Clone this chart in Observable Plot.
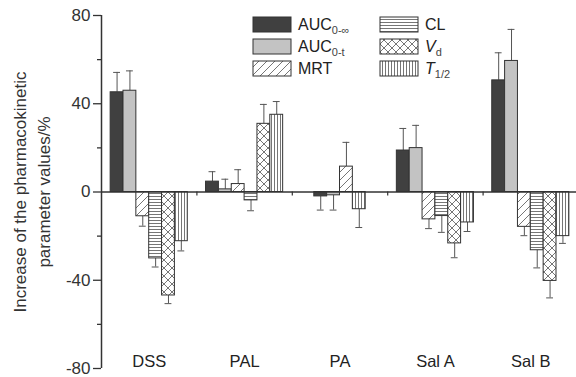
<!DOCTYPE html>
<html><head><meta charset="utf-8">
<script src="https://cdn.jsdelivr.net/npm/d3@7"></script>
<script src="https://cdn.jsdelivr.net/npm/@observablehq/plot@0.6"></script>
<style>body{margin:0;background:#fff;}</style>
</head><body><div id="chart"></div>
<script>
// ---- data ----
const groups = ["DSS", "PAL", "PA", "Sal A", "Sal B"];
const series = ["AUC0-∞", "AUC0-t", "MRT", "CL", "Vd", "T1/2"];
const dssValues  = [45.2, 45.9, -11.0, -30.1, -46.9, -22.3];
const dssErr     = [9.0, 9.0, 4.5, 3.9, 3.7, 4.4];
const palValues  = [4.7, 1.2, 3.6, -3.8, 30.9, 35.0];
const palErr     = [4.5, 4.6, 6.5, 4.7, 8.8, 6.0];
const paValues   = [-2.0, -1.5, 11.5, null, null, -7.8];
const paErr      = [6.2, 6.7, 11.0, null, null, 8.3];
const salAValues = [18.8, 19.9, -12.4, -10.9, -23.3, -13.8];
const salAErr    = [10.0, 10.3, 4.2, 7.4, 6.5, 4.1];
const salBValues = [50.6, 59.4, -15.8, -26.4, -40.3, -20.0];
const salBErr    = [12.5, 14.3, 4.0, 8.0, 7.7, 3.3];
const majorTicks = [-80, -40, 0, 40, 80];
const minorTicks = [-60, -20, 20, 60];
const yTitle = "Increase of the pharmacokinetic\nparameter values/%";
const legendMain = ["AUC", "AUC", "MRT", "CL", "V", "T"];
const legendSub  = ["0-∞", "0-t", "", "", "d", "1/2"];
const legendItalic = [false, false, false, false, true, true];

const allValues = [dssValues, palValues, paValues, salAValues, salBValues];
const allErr = [dssErr, palErr, paErr, salAErr, salBErr];

// ---- build rows ----
const barW = 0.1347;
const rows = [];
groups.forEach((g, gi) => {
  const present = series.map((s, si) => si).filter(si => allValues[gi][si] != null);
  const n = present.length;
  present.forEach((si, k) => {
    const v = allValues[gi][si], e = allErr[gi][si];
    const x1 = gi + 0.5 - n * barW / 2 + k * barW;
    rows.push({group: g, series: series[si], si, value: v, x1, x2: x1 + barW,
      xc: x1 + barW / 2, tip: v + Math.sign(v || 1) * e});
  });
});

const fills = ["#404040", "#c3c3c3", "url(#p-mrt)", "url(#p-cl)", "url(#p-vd)", "url(#p-t)"];

const barMarks = series.map((s, si) => Plot.rectY(rows.filter(d => d.si === si), {
  x1: "x1", x2: "x2", y1: 0, y2: "value", fill: fills[si], stroke: "#333", strokeWidth: 1
}));

const plot = Plot.plot({
  width: 576, height: 377,
  marginLeft: 101, marginRight: 0, marginTop: 15, marginBottom: 9,
  x: {domain: [0, 5], range: [101, 578], axis: null},
  y: {domain: [-80, 80]},
  style: {fontFamily: "'Liberation Sans', Arial, sans-serif", fontSize: "16px", color: "#333", background: "white", overflow: "visible"},
  marks: [
    Plot.ruleX(rows, {x: "xc", y1: "value", y2: "tip", stroke: "#555", strokeWidth: 1}),
    Plot.ruleY(rows, {x1: d => d.xc - 0.036, x2: d => d.xc + 0.036, y: "tip", stroke: "#555", strokeWidth: 1}),
    ...barMarks,
    Plot.ruleY([0], {stroke: "#333", strokeWidth: 1.3}),
    Plot.ruleX([1, 2, 3, 4], {y1: 0, y2: 0, insetBottom: -4, stroke: "#333", strokeWidth: 1.2}),
    Plot.ruleX([0], {y1: -80, y2: 80, stroke: "#333", strokeWidth: 1.5}),
    Plot.axisY(majorTicks, {tickSize: 8, tickPadding: 3, fontSize: 17, label: null, tickFormat: d => String(d), stroke: "#333", strokeWidth: 1.3}),
    Plot.axisY(minorTicks, {tickSize: 4, tickFormat: () => "", label: null, stroke: "#333", strokeWidth: 1.3}),
    Plot.text(groups, {x: (d, i) => i + 0.5, frameAnchor: "bottom", lineAnchor: "bottom", dy: -2, fontSize: 16.5, text: d => d, fill: "#222"}),
    Plot.text([yTitle], {frameAnchor: "left", dx: -71, rotate: -90, textAnchor: "middle", lineAnchor: "middle", fontSize: 17, lineHeight: 1.4, text: d => d, fill: "#333"})
  ]
});

document.getElementById("chart").appendChild(plot);

// ---- patterns ----
const svg = d3.select(plot);
const defs = svg.insert("defs", ":first-child");
function addPattern(id, w, h, d, sw) {
  const p = defs.append("pattern").attr("id", id).attr("patternUnits", "userSpaceOnUse")
    .attr("width", w).attr("height", h);
  p.append("rect").attr("width", w).attr("height", h).attr("fill", "white");
  p.append("path").attr("d", d).attr("stroke", "#666").attr("stroke-width", sw).attr("fill", "none");
}
addPattern("p-mrt", 8, 8, "M0,8L8,0M-2,2L2,-2M6,10L10,6", 0.9);
addPattern("p-cl", 4, 3, "M0,1.5H4", 0.9);
addPattern("p-vd", 8, 8, "M0,0L8,8M8,0L0,8", 0.9);
addPattern("p-t", 3, 4, "M1.5,0V4", 0.9);

// ---- legend ----
const lg = svg.append("g").attr("font-family", "'Liberation Sans', Arial, sans-serif")
  .attr("fill", "#222").attr("text-anchor", "start");
series.forEach((s, i) => {
  const col = Math.floor(i / 3), row = i % 3;
  const sx = col === 0 ? 253 : 380, sy = 17 + row * 22;
  lg.append("rect").attr("x", sx).attr("y", sy).attr("width", 38).attr("height", 15)
    .attr("fill", fills[i]).attr("stroke", "#333").attr("stroke-width", 1);
  const t = lg.append("text").attr("x", sx + 45).attr("y", sy + 7.5).attr("dy", "0.36em")
    .attr("font-size", 16).attr("text-anchor", "start");
  t.append("tspan").text(legendMain[i]).attr("font-style", legendItalic[i] ? "italic" : "normal");
  if (legendSub[i]) t.append("tspan").text(legendSub[i]).attr("font-size", 11).attr("dy", 4).attr("fill", "#444");
});
</script>
</body></html>
